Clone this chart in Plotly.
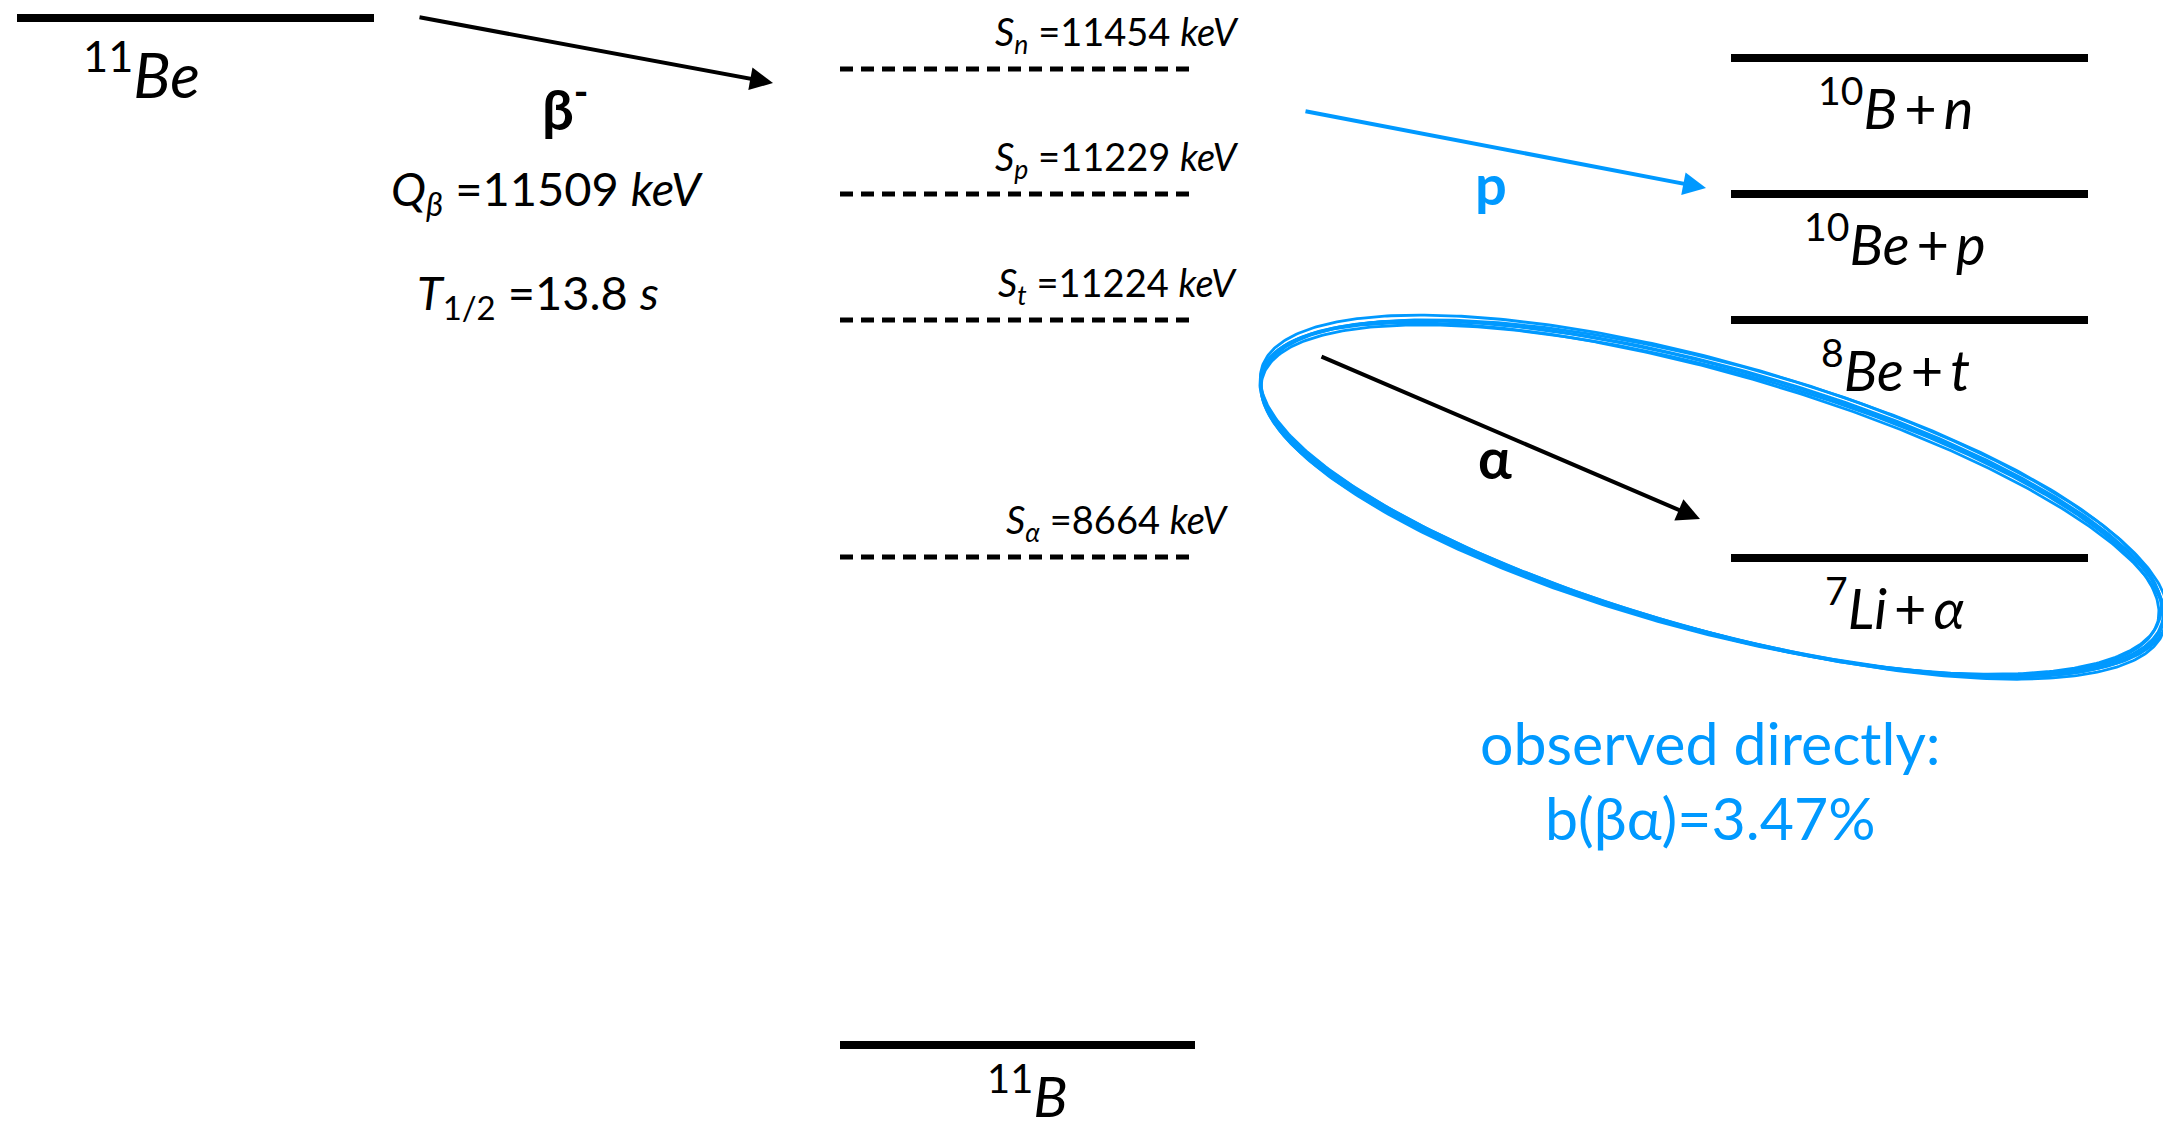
import numpy as np
import plotly.graph_objects as go

# ---------------- data ----------------
parent_label = "<sup>11</sup><i>Be</i>"
daughter_label = "<sup>11</sup><i>B</i>"
q_beta_kev = 11509
half_life_s = 13.8
threshold_particles = ["n", "p", "t", "α"]
threshold_kev = [11454, 11229, 11224, 8664]
channel_labels = [
    "<sup>10</sup><i>B</i>\u2009+\u2009<i>n</i>",
    "<sup>10</sup><i>Be</i>\u2009+\u2009<i>p</i>",
    "<sup>8</sup><i>Be</i>\u2009+\u2009<i>t</i>",
    "<sup>7</sup><i>Li</i>\u2009+\u2009<i>α</i>",
]
decay_labels = ["β<sup>-</sup>", "p", "α"]
observed_text = "observed directly:"
branching_pct = 3.47

# ---------------- schematic layout (canvas units) ----------------
W, H = 2171, 1133
PAD = 8   # default page body margin
BLUE = "#0099FF"
FONT = "Lato"

parent_x, parent_y = (17, 374), 18
mid_x = (840, 1195)
mid_y = [69, 194, 320, 557]          # schematic rows of the thresholds
ground_y = 1045
right_x = (1731, 2088)
right_y = [58, 194, 320, 558]

fig = go.Figure()

def level(xr, y, dash="solid", width=8):
    fig.add_trace(go.Scatter(x=list(xr), y=[y, y], mode="lines",
                             line=dict(color="black", width=width, dash=dash),
                             hoverinfo="skip", showlegend=False))

level(parent_x, parent_y)
level(mid_x, ground_y)
for y in mid_y:
    level(mid_x, y, dash="13px,8px", width=5)
for y in right_y:
    level(right_x, y)

ann = []

def text(x, y, s, size, color="black", bold=False):
    if bold:
        s = "<b>" + s + "</b>"
    ann.append(dict(x=x, y=y, xref="x", yref="y", text=s, showarrow=False,
                    xanchor="center", yanchor="middle",
                    font=dict(family=FONT, size=size, color=color)))

# parent / daughter labels
text(141, parent_y + 52, parent_label, 62)
text(1027, ground_y + 46, daughter_label, 57)

# beta decay info
text(565, 104, decay_labels[0], 56, bold=True)
text(547, 191, f"<i>Q</i><sub><i>β</i></sub> ={q_beta_kev} <i>keV</i>", 47)
text(538, 295, f"<i>T</i><sub>1/2</sub> ={half_life_s} <i>s</i>", 47)

# separation energies
for y, part, e in zip(mid_y, threshold_particles, threshold_kev):
    text(1117, y - 35, f"<i>S</i><sub><i>{part}</i></sub> ={e} <i>keV</i>", 38)

# channel labels
for y, lab in zip(right_y, channel_labels):
    text(1895, y + 45, lab, 56)

# arrows
def arrow(x0, y0, x1, y1, color):
    ann.append(dict(x=x1, y=y1, ax=x0, ay=y0, xref="x", yref="y",
                    axref="x", ayref="y", text="", showarrow=True,
                    arrowhead=2, arrowsize=1.15, arrowwidth=4,
                    arrowcolor=color, standoff=0, startstandoff=0))

arrow(418, 17, 773, 83, "black")
arrow(1304, 111, 1706, 188, BLUE)
arrow(1320, 356, 1700, 519, "black")

text(1491, 183, decay_labels[1], 56, color=BLUE, bold=True)
text(1495, 457, decay_labels[2], 56, bold=True)

# observed text
text(1710, 742, observed_text, 59, color=BLUE)
text(1710, 817, f"b(βα)={branching_pct}%", 59, color=BLUE)

# sketchy ellipse around the alpha channel
cx, cy, a, b, th = 1712, 498, 467, 131, np.deg2rad(15.5)
t = np.linspace(0, 2 * np.pi, 500)
passes = [(0, 0, 0, 0, 0.0), (2, -2, 3, 2, 0.005), (-2, 2, -3, -1, -0.004),
          (1, 3, 2, -3, 0.008), (-1, -1, -2, 3, -0.007), (0, 1, 1, 0, 0.002)]
for dx, dy, da, db, dth in passes:
    aa, bb, tt = a + da, b + db, th + dth
    xs = cx + dx + aa * np.cos(t) * np.cos(tt) - bb * np.sin(t) * np.sin(tt)
    ys = cy + dy + aa * np.cos(t) * np.sin(tt) + bb * np.sin(t) * np.cos(tt)
    fig.add_trace(go.Scatter(x=xs, y=ys, mode="lines",
                             line=dict(color=BLUE, width=2.8),
                             hoverinfo="skip", showlegend=False))

fig.update_layout(
    width=W - 2 * PAD, height=H - 2 * PAD, margin=dict(l=0, r=0, t=0, b=0),
    paper_bgcolor="white", plot_bgcolor="white",
    xaxis=dict(range=[PAD, W - PAD], visible=False, fixedrange=True),
    yaxis=dict(range=[H - PAD, PAD], visible=False, fixedrange=True),
    annotations=ann, showlegend=False,
)
fig.write_html("out.html")
